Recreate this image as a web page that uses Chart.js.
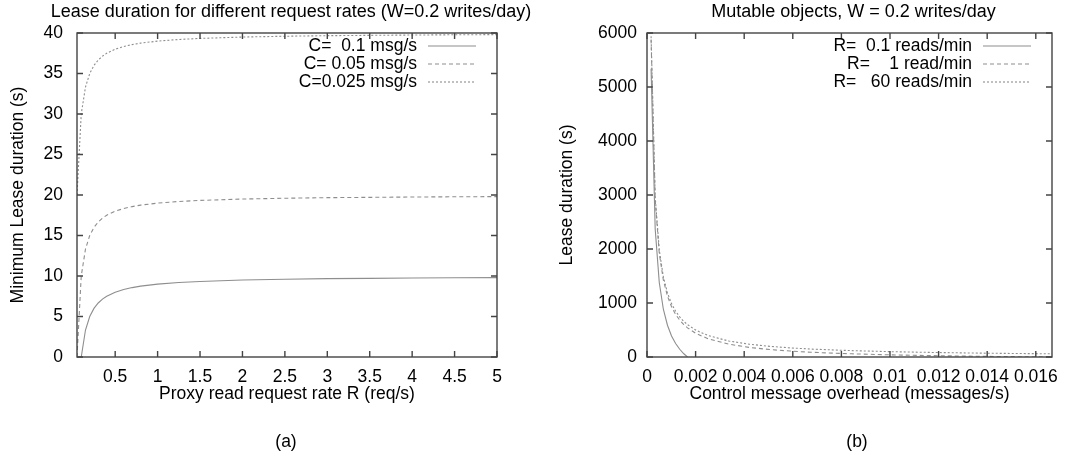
<!DOCTYPE html>
<html lang="en">
<head>
<meta charset="UTF-8">
<title>Lease duration and control message overhead</title>
<style>
  body { margin: 0; background: #fff; }
  .wrap { position: relative; width: 1076px; height: 463px; overflow: hidden; }
  #leaseChart { position: absolute; left: 0; top: 0; }
  #overheadChart { position: absolute; left: 540px; top: 0; }
</style>
<script src="https://cdn.jsdelivr.net/npm/chart.js"></script>
</head>
<body>
<div class="wrap">
  <canvas id="leaseChart" width="540" height="463"></canvas>
  <canvas id="overheadChart" width="536" height="463"></canvas>
</div>
<script>
// (a) minimum lease duration (s) against proxy read request rate R (req/s)
const readRate  = [0.05, 0.1, 0.15, 0.2, 0.25, 0.3, 0.35, 0.4, 0.5, 0.6, 0.7, 0.8, 1, 1.25, 1.5, 2, 2.5, 3, 3.5, 4, 4.5, 5];
const leaseC100 = [null, 0, 3.33, 5, 6, 6.67, 7.14, 7.5, 8, 8.33, 8.57, 8.75, 9, 9.2, 9.33, 9.5, 9.6, 9.67, 9.71, 9.75, 9.78, 9.8];
const leaseC050 = [0, 10, 13.33, 15, 16, 16.67, 17.14, 17.5, 18, 18.33, 18.57, 18.75, 19, 19.2, 19.33, 19.5, 19.6, 19.67, 19.71, 19.75, 19.78, 19.8];
const leaseC025 = [20, 30, 33.33, 35, 36, 36.67, 37.14, 37.5, 38, 38.33, 38.57, 38.75, 39, 39.2, 39.33, 39.5, 39.6, 39.67, 39.71, 39.75, 39.78, 39.8];
const rateTicks = [0.5, 1, 1.5, 2, 2.5, 3, 3.5, 4, 4.5, 5];
const leaseTicks = [0, 5, 10, 15, 20, 25, 30, 35, 40];

// (b) lease duration (s) against control message overhead (messages/s)
const overhead = [0.000168, 0.000337, 0.000505, 0.000673, 0.000842, 0.00101, 0.001178, 0.001347, 0.001515, 0.001667,
                  0.00202, 0.002525, 0.003367, 0.004209, 0.00505, 0.005892, 0.006734, 0.008418, 0.0101, 0.011785, 0.013468, 0.015152, 0.016667];
const leaseR01 = [5340, 2370, 1380, 885, 588, 390, 249, 143, 60, 0];
const leaseR1  = [5880, 2910, 1920, 1425, 1128, 930, 789, 683, 600, 540, 435, 336, 237, 178, 138, 110, 88, 59, 39, 25, 14, 6, 0];
const leaseR60 = [5939, 2969, 1979, 1484, 1187, 989, 848, 742, 659, 599, 494, 395, 296, 237, 197, 169, 147, 118, 98, 84, 73, 65, 59];
const overheadTicks = [0, 0.002, 0.004, 0.006, 0.008, 0.01, 0.012, 0.014, 0.016];
const durationTicks = [0, 1000, 2000, 3000, 4000, 5000, 6000];

const FONT = '"Liberation Sans", Arial, Helvetica, sans-serif';
const FS = 17.5;
Chart.defaults.font.family = FONT;
Chart.defaults.font.size = FS;
Chart.defaults.color = '#000';

function points(xs, ys) {
  const out = [];
  ys.forEach((y, i) => { if (y !== null) out.push({ x: xs[i], y: y }); });
  return out;
}

function series(label, xs, ys, dash) {
  return {
    label: label,
    data: points(xs, ys),
    borderColor: '#8e8e8e',
    borderWidth: 1.1,
    borderDash: dash,
    pointRadius: 0,
    tension: 0,
    fill: false
  };
}

// gnuplot style box: frame plus inward ticks on all four sides
const framePlugin = {
  id: 'frame',
  afterDatasetsDraw(chart) {
    const { ctx, chartArea: a, scales } = chart;
    const L = 6;
    ctx.save();
    ctx.strokeStyle = '#444';
    ctx.lineWidth = 1.4;
    ctx.setLineDash([]);
    ctx.beginPath();
    scales.x.ticks.forEach(t => {
      const px = scales.x.getPixelForValue(t.value);
      ctx.moveTo(px, a.bottom); ctx.lineTo(px, a.bottom - L);
      ctx.moveTo(px, a.top); ctx.lineTo(px, a.top + L);
    });
    scales.y.ticks.forEach(t => {
      const py = scales.y.getPixelForValue(t.value);
      ctx.moveTo(a.left, py); ctx.lineTo(a.left + L, py);
      ctx.moveTo(a.right, py); ctx.lineTo(a.right - L, py);
    });
    ctx.stroke();
    ctx.strokeRect(a.left, a.top, a.right - a.left, a.bottom - a.top);
    ctx.restore();
  }
};

// key in the top right corner: text right aligned, line sample after it
const keyPlugin = {
  id: 'key',
  afterDatasetsDraw(chart) {
    const { ctx, chartArea: a } = chart;
    ctx.save();
    ctx.font = FS + 'px ' + FONT;
    ctx.textAlign = 'right';
    ctx.textBaseline = 'middle';
    chart.data.datasets.forEach((ds, i) => {
      const y = a.top + 13 + i * 18;
      ctx.fillStyle = '#000';
      ctx.fillText(ds.label, a.right - 80, y);
      ctx.strokeStyle = ds.borderColor;
      ctx.lineWidth = ds.borderWidth;
      ctx.setLineDash(ds.borderDash || []);
      ctx.beginPath();
      ctx.moveTo(a.right - 69, y);
      ctx.lineTo(a.right - 21, y);
      ctx.stroke();
    });
    ctx.restore();
  }
};

// plot title above and panel caption below, centred on the plot box
const headingPlugin = {
  id: 'heading',
  afterDraw(chart, args, opts) {
    const { ctx, chartArea: a } = chart;
    const cx = (a.left + a.right) / 2;
    ctx.save();
    ctx.fillStyle = '#000';
    ctx.textAlign = 'center';
    ctx.textBaseline = 'middle';
    ctx.font = '18px ' + FONT;
    ctx.fillText(opts.title, cx + opts.titleDx, 12);
    ctx.font = FS + 'px ' + FONT;
    ctx.fillText(opts.caption, cx + opts.captionDx, 442);
    ctx.restore();
  }
};

function makeOptions(o) {
  return {
    responsive: false,
    animation: false,
    layout: { padding: { left: 0, right: o.padRight, top: 33, bottom: 56 } },
    plugins: {
      legend: { display: false },
      tooltip: { enabled: false },
      heading: { title: o.title, caption: o.caption, titleDx: 4, captionDx: o.captionDx }
    },
    scales: {
      x: {
        type: 'linear',
        min: o.xMin, max: o.xMax,
        grid: { display: false, drawTicks: false },
        border: { display: false },
        afterBuildTicks: s => { s.ticks = o.xTicks.map(v => ({ value: v })); },
        afterFit: s => { s.height = 50; },
        ticks: {
          autoSkip: false, maxRotation: 0, padding: 10,
          callback: v => o.fmtX(v)
        },
        title: { display: true, text: o.xTitle, padding: { top: 0, bottom: 2.8 } }
      },
      y: {
        type: 'linear',
        min: o.yMin, max: o.yMax,
        grid: { display: false, drawTicks: false },
        border: { display: false },
        afterBuildTicks: s => { s.ticks = o.yTicks.map(v => ({ value: v })); },
        afterFit: s => { s.width = o.yWidth; },
        ticks: {
          autoSkip: false, padding: o.yTickPad,
          callback: v => String(v)
        },
        title: { display: true, text: o.yTitle, padding: { top: o.yTitlePad, bottom: 0 } }
      }
    }
  };
}

new Chart(document.getElementById('leaseChart'), {
  type: 'line',
  data: {
    datasets: [
      series('C=  0.1 msg/s', readRate, leaseC100, []),
      series('C= 0.05 msg/s', readRate, leaseC050, [4, 3]),
      series('C=0.025 msg/s', readRate, leaseC025, [2, 2])
    ]
  },
  options: makeOptions({
    title: 'Lease duration for different request rates (W=0.2 writes/day)',
    caption: '(a)', captionDx: -1,
    padRight: 43,
    xMin: 0.05, xMax: 5, xTicks: rateTicks,
    fmtX: v => String(v),
    xTitle: 'Proxy read request rate R (req/s)',
    yMin: 0, yMax: 40, yTicks: leaseTicks,
    yWidth: 77, yTickPad: 14, yTitlePad: 7.8,
    yTitle: 'Minimum Lease duration (s)'
  }),
  plugins: [framePlugin, keyPlugin, headingPlugin]
});

new Chart(document.getElementById('overheadChart'), {
  type: 'line',
  data: {
    datasets: [
      series('R=  0.1 reads/min', overhead, leaseR01, []),
      series('R=    1 read/min', overhead, leaseR1, [4, 3]),
      series('R=   60 reads/min', overhead, leaseR60, [2, 2])
    ]
  },
  options: makeOptions({
    title: 'Mutable objects, W = 0.2 writes/day',
    caption: '(b)', captionDx: 7.5,
    padRight: 24,
    xMin: 0, xMax: 0.016667, xTicks: overheadTicks,
    fmtX: v => String(+v.toFixed(3)),
    xTitle: 'Control message overhead (messages/s)',
    yMin: 0, yMax: 6000, yTicks: durationTicks,
    yWidth: 107, yTickPad: 10, yTitlePad: 16.8,
    yTitle: 'Lease duration (s)'
  }),
  plugins: [framePlugin, keyPlugin, headingPlugin]
});
</script>
</body>
</html>
